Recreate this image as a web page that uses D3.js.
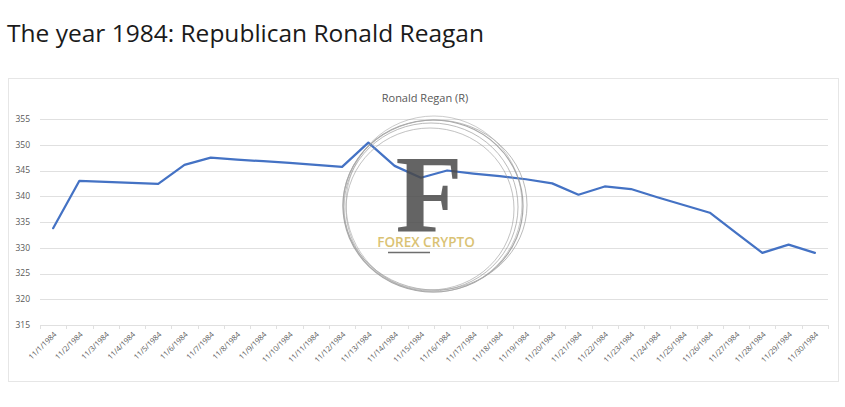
<!DOCTYPE html>
<html>
<head>
<meta charset="utf-8">
<script src="https://cdn.jsdelivr.net/npm/d3@7"></script>
<style>
  body { margin: 0; background: #fff; }
  svg { display: block; }
</style>
</head>
<body>
<div id="chart"></div>
<script>
// values
var dates = [];
for (var d = 1; d <= 30; d++) dates.push("11/" + d + "/1984");

var votes = [333.8, 343.0, 342.8, 342.6, 342.4, 346.1, 347.5, 347.1, 346.8, 346.5,
             346.1, 345.7, 350.4, 345.9, 343.6, 345.0, 344.4, 343.9, 343.3, 342.5,
             340.3, 341.9, 341.4, 339.8, 338.3, 336.8, 332.9, 329.0, 330.6, 329.0];

var yTicks = [315, 320, 325, 330, 335, 340, 345, 350, 355];

var W = 845, H = 407;
var margin = { top: 119, right: 17, bottom: 82, left: 40 };
var width = W - margin.left - margin.right,
    height = H - margin.top - margin.bottom;

var svg = d3.select("#chart").append("svg")
    .attr("width", W)
    .attr("height", H);

// page title
svg.append("text")
    .attr("x", 7).attr("y", 42)
    .attr("font-family", "'Open Sans', sans-serif")
    .attr("font-size", 24.5)
    .attr("fill", "#1a1a1a")
    .text("The year 1984: Republican Ronald Reagan");

// chart frame
svg.append("rect")
    .attr("x", 8.5).attr("y", 78.5)
    .attr("width", 830).attr("height", 303)
    .attr("fill", "#fff")
    .attr("stroke", "#e6e6e6");

svg.append("text")
    .attr("x", 425).attr("y", 102)
    .attr("text-anchor", "middle")
    .attr("font-family", "'Open Sans', sans-serif")
    .attr("font-size", 11)
    .attr("fill", "#595959")
    .text("Ronald Regan (R)");

var g = svg.append("g")
    .attr("transform", "translate(" + margin.left + "," + margin.top + ")");

var x = d3.scaleBand().domain(dates).range([0, width]);
var y = d3.scaleLinear().domain([315, 355]).range([height, 0]);

// gridlines
g.selectAll(".grid")
    .data(yTicks)
    .enter().append("line")
    .attr("x1", 0).attr("x2", width)
    .attr("y1", function (d) { return Math.round(y(d)) + 0.5; })
    .attr("y2", function (d) { return Math.round(y(d)) + 0.5; })
    .attr("stroke", "#e0e0e0");

// y labels
g.selectAll(".ylab")
    .data(yTicks)
    .enter().append("text")
    .attr("x", -10)
    .attr("y", function (d) { return y(d); })
    .attr("dy", "0.35em")
    .attr("text-anchor", "end")
    .attr("font-family", "'Open Sans', sans-serif")
    .attr("font-size", 8.5)
    .attr("fill", "#595959")
    .text(function (d) { return d; });

// category ticks
var bounds = dates.map(function (d) { return x(d); }).concat([width]);
g.selectAll(".xtick")
    .data(bounds)
    .enter().append("line")
    .attr("x1", function (d) { return Math.round(d) + 0.5; })
    .attr("x2", function (d) { return Math.round(d) + 0.5; })
    .attr("y1", height).attr("y2", height + 4)
    .attr("stroke", "#e0e0e0");

// x labels
g.selectAll(".xlab")
    .data(dates)
    .enter().append("text")
    .attr("transform", function (d) {
        return "translate(" + (x(d) + x.bandwidth() / 2 + 2) + "," + (height + 8) + ") rotate(-45)";
    })
    .attr("text-anchor", "end")
    .attr("dy", "0.35em")
    .attr("font-family", "'Open Sans', sans-serif")
    .attr("font-size", 7.5)
    .attr("fill", "#595959")
    .text(function (d) { return d; });

// series line
var line = d3.line()
    .x(function (d, i) { return x(dates[i]) + x.bandwidth() / 2; })
    .y(function (d) { return y(d); });

g.append("path")
    .datum(votes)
    .attr("d", line)
    .attr("fill", "none")
    .attr("stroke", "#4472c4")
    .attr("stroke-width", 2.25)
    .attr("stroke-linejoin", "round")
    .attr("stroke-linecap", "round");

// watermark logo
var wm = svg.append("g").attr("opacity", 0.85);
var rings = [
    { cx: 433, cy: 206, rx: 90, ry: 86, w: 1.2 },
    { cx: 431, cy: 207, rx: 87, ry: 84, w: 0.8 },
    { cx: 435, cy: 205, rx: 92, ry: 85, w: 0.8 },
    { cx: 430, cy: 209, rx: 84, ry: 81, w: 0.7 },
    { cx: 434, cy: 204, rx: 88, ry: 88, w: 0.6 }
];
wm.selectAll("ellipse")
    .data(rings)
    .enter().append("ellipse")
    .attr("cx", function (d) { return d.cx; })
    .attr("cy", function (d) { return d.cy; })
    .attr("rx", function (d) { return d.rx; })
    .attr("ry", function (d) { return d.ry; })
    .attr("fill", "none")
    .attr("stroke", "#9a9a9a")
    .attr("stroke-width", function (d) { return d.w; });

wm.append("text")
    .attr("x", 429).attr("y", 232)
    .attr("text-anchor", "middle")
    .attr("font-family", "'Liberation Serif', serif")
    .attr("font-weight", "bold")
    .attr("font-size", 110)
    .attr("fill", "#4a4a4a")
    .text("F");

wm.append("text")
    .attr("x", 426).attr("y", 247)
    .attr("text-anchor", "middle")
    .attr("font-family", "'Open Sans', sans-serif")
    .attr("font-weight", 600)
    .attr("font-size", 13.5)
    .attr("fill", "#d4b85c")
    .text("FOREX CRYPTO");

wm.append("line")
    .attr("x1", 388).attr("x2", 430)
    .attr("y1", 252.5).attr("y2", 252.5)
    .attr("stroke", "#555")
    .attr("stroke-width", 1.5);
</script>
</body>
</html>
